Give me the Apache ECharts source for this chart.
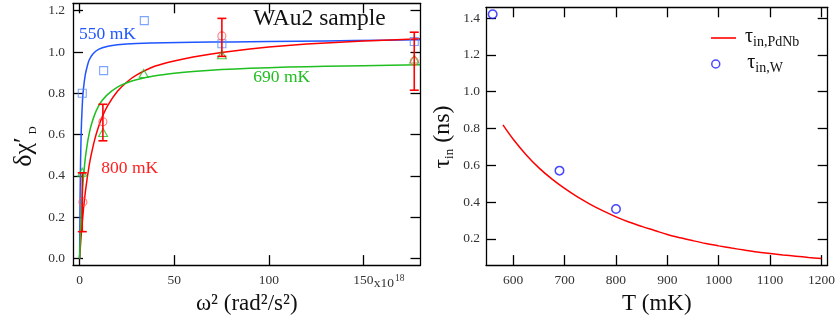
<!DOCTYPE html>
<html><head><meta charset="utf-8">
<script src="https://cdn.jsdelivr.net/npm/echarts@6/dist/echarts.min.js"></script>
<style>html,body{margin:0;padding:0;background:#fff}#c{width:838px;height:320px}</style>
</head><body><div id="c"></div>
<script>
// ---------- Left panel: delta chi'_D vs omega^2 (x10^18 rad^2/s^2) ----------
const omega2_550 = [1.4, 12.7, 34.2, 75.2, 176.9];
const chi_550    = [0.80, 0.91, 1.152, 1.04, 1.051];
const omega2_690 = [1.4, 12.4, 33.9, 75.2, 176.9];
const chi_690    = [0.418, 0.61, 0.896, 0.987, 0.966];
const omega2_800 = [1.75, 12.3, 75.2, 176.9];
const chi_800    = [0.274, 0.662, 1.078, 0.955];
const errX_800   = [1.4, 12.3, 75.2, 176.9];
const errLo_800  = [0.13, 0.57, 0.979, 0.815];
const errHi_800  = [0.415, 0.747, 1.163, 1.096];

const fitX_550 = [0, 0.25, 0.5, 0.75, 1, 1.5, 2, 3, 4, 5, 7, 10, 15, 20, 30, 45, 60, 80, 100, 130, 160, 180];
const fitY_550 = [0, 0.30, 0.47, 0.58, 0.66, 0.76, 0.82, 0.89, 0.93, 0.96, 0.99, 1.013, 1.028, 1.035, 1.041, 1.045, 1.047, 1.049, 1.051, 1.054, 1.057, 1.059];
const fitX_690 = [0, 0.5, 1, 1.5, 2, 3, 4, 5, 6, 8, 10, 12, 15, 20, 25, 30, 40, 50, 60, 75, 90, 110, 130, 150, 180];
const fitY_690 = [0, 0.14, 0.245, 0.325, 0.39, 0.485, 0.552, 0.602, 0.642, 0.698, 0.738, 0.766, 0.796, 0.83, 0.851, 0.866, 0.885, 0.897, 0.906, 0.915, 0.921, 0.927, 0.931, 0.934, 0.938];
const fitX_800 = [0, 0.5, 1, 2, 3, 4, 5, 6, 8, 10, 12, 15, 20, 25, 30, 40, 50, 60, 75, 90, 110, 130, 150, 180];
const fitY_800 = [0, 0.07, 0.132, 0.236, 0.32, 0.389, 0.448, 0.497, 0.577, 0.638, 0.687, 0.743, 0.81, 0.855, 0.888, 0.932, 0.957, 0.976, 0.998, 1.015, 1.032, 1.044, 1.053, 1.064];

const ticksX_omega = [0, 50, 100, 150];
const ticksY_chi   = [0, 0.2, 0.4, 0.6, 0.8, 1.0, 1.2];

// ---------- Right panel: tau_in vs T ----------
const T_pdnb   = [580, 600, 625, 650, 675, 700, 725, 750, 775, 800, 825, 850, 875, 900, 925, 950, 975, 1000, 1025, 1050, 1075, 1100, 1125, 1150, 1175, 1200];
const tau_pdnb = [0.82, 0.742, 0.658, 0.586, 0.526, 0.474, 0.428, 0.388, 0.352, 0.32, 0.292, 0.268, 0.246, 0.224, 0.206, 0.19, 0.175, 0.162, 0.15, 0.139, 0.129, 0.121, 0.113, 0.106, 0.099, 0.093];
const T_w   = [560, 690, 800];
const tau_w = [1.421, 0.571, 0.362];

const ticksX_T   = [600, 700, 800, 900, 1000, 1100, 1200];
const ticksY_tau = [0.2, 0.4, 0.6, 0.8, 1.0, 1.2, 1.4];

const FONT = 'Liberation Serif';
const zip = (a, b) => a.map((v, i) => [v, b[i]]);

const BLUE_L = '#1f55ff', BLUE_P = '#5b8cff';
const GREEN = '#1fbf1f';
const RED = '#ff0000', RED_P = '#ff5a5a';

const axLine = {show: true, onZero: false, lineStyle: {color: '#000', width: 1.3}};
const tick = vals => ({show: true, inside: true, length: 10, customValues: vals, lineStyle: {color: '#000', width: 1.3}});
const lbl = (margin, vals, fmt) => ({show: true, margin, customValues: vals, showMinLabel: true, showMaxLabel: true,
  color: '#333', fontFamily: FONT, fontSize: 13.5, formatter: fmt});
const noLbl = {show: false};

const chart = echarts.init(document.getElementById('c'), null, {renderer: 'canvas'});

const option = {
  animation: false,
  backgroundColor: '#fff',
  grid: [
    {left: 73, right: 417.5, top: 3.3, bottom: 53},
    {left: 486, right: 8.7, top: 7.3, bottom: 51.7}
  ],
  xAxis: [
    {gridIndex: 0, type: 'value', position: 'bottom', min: -3.5, max: 180.2,
     axisLine: axLine, axisTick: tick(ticksX_omega), splitLine: {show: false},
     axisLabel: lbl(8, ticksX_omega, v => String(v)),
     name: 'ω² (rad²/s²)', nameLocation: 'middle', nameGap: 18,
     nameTextStyle: {fontFamily: FONT, fontSize: 23, color: '#111'}},
    {gridIndex: 0, type: 'value', position: 'top', min: -3.5, max: 180.2,
     axisLine: axLine, axisTick: tick(ticksX_omega), splitLine: {show: false}, axisLabel: noLbl},
    {gridIndex: 1, type: 'value', position: 'bottom', min: 547, max: 1212,
     axisLine: axLine, axisTick: tick(ticksX_T), splitLine: {show: false},
     axisLabel: lbl(8, ticksX_T, v => String(v)),
     name: 'T (mK)', nameLocation: 'middle', nameGap: 18,
     nameTextStyle: {fontFamily: FONT, fontSize: 23, color: '#111'}},
    {gridIndex: 1, type: 'value', position: 'top', min: 547, max: 1212,
     axisLine: axLine, axisTick: tick(ticksX_T), splitLine: {show: false}, axisLabel: noLbl}
  ],
  yAxis: [
    {gridIndex: 0, type: 'value', position: 'left', min: -0.032, max: 1.236,
     axisLine: axLine, axisTick: tick(ticksY_chi), splitLine: {show: false},
     axisLabel: lbl(8, ticksY_chi, v => v.toFixed(1))},
    {gridIndex: 0, type: 'value', position: 'right', min: -0.032, max: 1.236,
     axisLine: axLine, axisTick: tick(ticksY_chi), splitLine: {show: false}, axisLabel: noLbl},
    {gridIndex: 1, type: 'value', position: 'left', min: 0.0575, max: 1.459,
     axisLine: axLine, axisTick: tick(ticksY_tau), splitLine: {show: false},
     axisLabel: lbl(6, ticksY_tau, v => v.toFixed(1))},
    {gridIndex: 1, type: 'value', position: 'right', min: 0.0575, max: 1.459,
     axisLine: axLine, axisTick: tick(ticksY_tau), splitLine: {show: false}, axisLabel: noLbl}
  ],
  legend: [
    {data: [{name: 'PdNb', icon: 'rect', itemStyle: {color: RED, borderWidth: 0}}], left: 711, top: 24, padding: 0, orient: 'vertical',
     itemWidth: 25, itemHeight: 1.6, selectedMode: false,
     formatter: () => '{t|τ}{s|in,PdNb}',
     textStyle: {padding: [0, 0, 0, 4], rich: {
       t: {fontFamily: FONT, fontSize: 20, color: '#111', lineHeight: 22, verticalAlign: 'top'},
       s: {fontFamily: FONT, fontSize: 14, color: '#111', lineHeight: 14, verticalAlign: 'bottom', padding: [11, 0, 0, 0]}}}},
    {data: [{name: 'W', icon: 'circle', itemStyle: {color: 'rgba(0,0,0,0)', borderColor: '#1a1aff', borderWidth: 1.5}}],
     left: 711, top: 50, padding: 0, orient: 'vertical',
     itemWidth: 25, itemHeight: 8, selectedMode: false,
     formatter: () => '{t|τ}{s|in,W}',
     textStyle: {padding: [0, 0, 0, 14], rich: {
       t: {fontFamily: FONT, fontSize: 20, color: '#111', lineHeight: 22, verticalAlign: 'top'},
       s: {fontFamily: FONT, fontSize: 14, color: '#111', lineHeight: 14, verticalAlign: 'bottom', padding: [11, 0, 0, 0]}}}}
  ],
  series: [
    {type: 'line', name: 'fit550', xAxisIndex: 0, yAxisIndex: 0, data: zip(fitX_550, fitY_550),
     symbol: 'none', smooth: 0.2, lineStyle: {color: BLUE_L, width: 1.5}, z: 2},
    {type: 'line', name: 'fit800', xAxisIndex: 0, yAxisIndex: 0, data: zip(fitX_800, fitY_800),
     symbol: 'none', smooth: 0.2, lineStyle: {color: RED, width: 1.5}, z: 2},
    {type: 'line', name: 'fit690', xAxisIndex: 0, yAxisIndex: 0, data: zip(fitX_690, fitY_690),
     symbol: 'none', smooth: 0.2, lineStyle: {color: GREEN, width: 1.5}, z: 2},
    {type: 'scatter', name: 'd550', xAxisIndex: 0, yAxisIndex: 0, data: zip(omega2_550, chi_550),
     symbol: 'rect', symbolSize: 8, itemStyle: {color: 'rgba(0,0,0,0)', borderColor: BLUE_P, borderWidth: 1.1}, z: 3},
    {type: 'scatter', name: 'd690', xAxisIndex: 0, yAxisIndex: 0, data: zip(omega2_690, chi_690),
     symbol: 'triangle', symbolSize: [9, 8], itemStyle: {color: 'rgba(0,0,0,0)', borderColor: GREEN, borderWidth: 1.1}, z: 3},
    {type: 'scatter', name: 'd800', xAxisIndex: 0, yAxisIndex: 0, data: zip(omega2_800, chi_800),
     symbol: 'circle', symbolSize: 8, itemStyle: {color: 'rgba(0,0,0,0)', borderColor: RED_P, borderWidth: 1.1}, z: 3},
    {type: 'custom', name: 'err800', xAxisIndex: 0, yAxisIndex: 0, z: 4,
     data: errX_800.map((x, i) => [x, errLo_800[i], errHi_800[i]]),
     renderItem: (params, api) => {
       const lo = api.coord([api.value(0), api.value(1)]);
       const hi = api.coord([api.value(0), api.value(2)]);
       const w = 4.5;
       const st = {stroke: RED, lineWidth: 1.6};
       return {type: 'group', children: [
         {type: 'line', shape: {x1: lo[0], y1: lo[1], x2: hi[0], y2: hi[1]}, style: st},
         {type: 'line', shape: {x1: lo[0] - w, y1: lo[1], x2: lo[0] + w, y2: lo[1]}, style: st},
         {type: 'line', shape: {x1: hi[0] - w, y1: hi[1], x2: hi[0] + w, y2: hi[1]}, style: st}
       ]};
     }},
    {type: 'line', name: 'PdNb', xAxisIndex: 2, yAxisIndex: 2, data: zip(T_pdnb, tau_pdnb),
     symbol: 'none', smooth: 0.35, lineStyle: {color: RED, width: 1.5}, itemStyle: {color: RED}},
    {type: 'scatter', name: 'W', xAxisIndex: 2, yAxisIndex: 2, data: zip(T_w, tau_w),
     symbol: 'circle', symbolSize: 8.5, itemStyle: {color: 'rgba(0,0,0,0)', borderColor: '#1a1aff', borderWidth: 1.5}}
  ]
};
chart.setOption(option);

const p150 = chart.convertToPixel({xAxisIndex: 0}, 150);
chart.setOption({
  graphic: [
    {type: 'text', x: 319.5, y: 18.5, style: {text: 'WAu2 sample', fontFamily: FONT, fontSize: 23.5, fill: '#111', align: 'center', verticalAlign: 'middle'}},
    {type: 'text', x: 107.5, y: 34, style: {text: '550 mK', fontFamily: FONT, fontSize: 17.5, fill: BLUE_L, align: 'center', verticalAlign: 'middle'}},
    {type: 'text', x: 281.7, y: 77.3, style: {text: '690 mK', fontFamily: FONT, fontSize: 17.5, fill: GREEN, align: 'center', verticalAlign: 'middle'}},
    {type: 'text', x: 129.7, y: 168.3, style: {text: '800 mK', fontFamily: FONT, fontSize: 17.5, fill: '#ff2020', align: 'center', verticalAlign: 'middle'}},
    {type: 'text', x: p150 + 10.5, y: 283.5, style: {text: 'x10{sup|18}', fontFamily: FONT, fontSize: 13.5, fill: '#333', align: 'left', verticalAlign: 'middle',
      rich: {sup: {fontFamily: FONT, fontSize: 9.5, fill: '#333', verticalAlign: 'top', padding: [0, 0, 10, 1]}}}},
    {type: 'text', x: 25, y: 146.5, rotation: Math.PI / 2, style: {text: '{t|δχ′}{s|D}', align: 'center', verticalAlign: 'middle',
      rich: {t: {fontFamily: FONT, fontSize: 26, fill: '#111', lineHeight: 27, verticalAlign: 'top'},
             s: {fontFamily: FONT, fontSize: 11, fill: '#111', lineHeight: 11, verticalAlign: 'bottom', padding: [18, 0, 0, 3]}}}},
    {type: 'text', x: 443.5, y: 137, rotation: Math.PI / 2, style: {text: '{t|τ}{s|in}{t| (ns)}', align: 'center', verticalAlign: 'middle',
      rich: {t: {fontFamily: FONT, fontSize: 24, fill: '#111', lineHeight: 26, verticalAlign: 'top'},
             s: {fontFamily: FONT, fontSize: 13, fill: '#111', lineHeight: 13, verticalAlign: 'bottom', padding: [17, 0, 0, 0]}}}}
  ]
});
</script></body></html>
